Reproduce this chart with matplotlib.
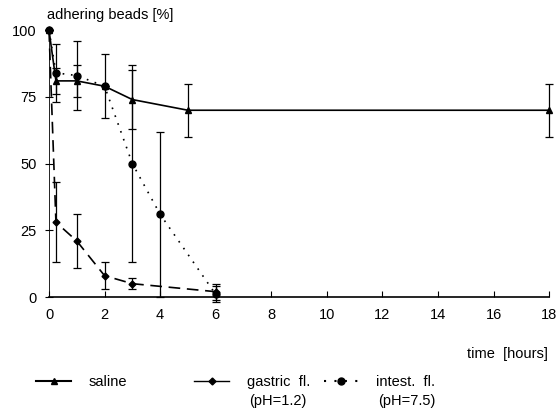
import matplotlib
matplotlib.use("Agg")
import matplotlib.pyplot as plt
from matplotlib.lines import Line2D

plt.rcParams['font.family'] = ['Liberation Sans', 'DejaVu Sans']
plt.rcParams['font.size'] = 10.5

# time points [hours] and adhering beads [%]
saline_t = [0, 0.25, 1, 2, 3, 5, 18]
saline_y = [100, 81, 81, 79, 74, 70, 70]
saline_err = [0, 5, 6, 12, 11, 10, 10]

gastric_t = [0, 0.25, 1, 2, 3, 6]
gastric_y = [100, 28, 21, 8, 5, 2]
gastric_err = [0, 15, 10, 5, 2, 3]

intest_t = [0, 0.25, 1, 2, 3, 4, 6]
intest_y = [100, 84, 83, 79, 50, 31, 1]
intest_err = [0, 11, 13, 0, 37, 31, 3]

xticks = [0, 2, 4, 6, 8, 10, 12, 14, 16, 18]
yticks = [0, 25, 50, 75, 100]

fig = plt.figure(figsize=(5.6, 4.08), dpi=100)
ax = fig.add_axes([0.0875, 0.272, 0.893, 0.654])

dash = (0, (7, 4))
dots = (0, (1, 4))

ebkw = dict(color='black', ecolor='black', elinewidth=0.9, capsize=3,
            capthick=0.9, clip_on=False)
ax.errorbar(saline_t, saline_y, yerr=saline_err, fmt='none', **ebkw)
ax.errorbar(gastric_t, gastric_y, yerr=gastric_err, fmt='none', **ebkw)
ax.errorbar(intest_t, intest_y, yerr=intest_err, fmt='none', **ebkw)
ax.plot(saline_t, saline_y, color='black', linestyle='-', marker='^',
        markersize=5, linewidth=1.2, clip_on=False)
ax.plot(gastric_t, gastric_y, color='black', linestyle=dash, marker='D',
        markersize=3.5, linewidth=1.2, clip_on=False)
ax.plot(intest_t, intest_y, color='black', linestyle=dots, marker='o',
        markersize=5, linewidth=1.2, clip_on=False)

ax.set_xlim(0, 18)
ax.set_ylim(0, 100)
ax.set_xticks(xticks)
ax.set_yticks(yticks)
ax.spines['top'].set_visible(False)
ax.spines['right'].set_visible(False)
ax.spines['left'].set_linewidth(0.6)
ax.spines['bottom'].set_linewidth(1.2)
ax.tick_params(axis='x', direction='in', length=4, pad=8)
ax.tick_params(axis='y', direction='inout', length=6, pad=6)

fig.text(0.084, 0.945, 'adhering beads [%]', ha='left', va='bottom')
fig.text(0.978, 0.115, 'time  [hours]', ha='right', va='bottom')

entries = [
    (Line2D([], [], color='black', linestyle='-', marker='^', markersize=5), 'saline', 0.065, None),
    (Line2D([], [], color='black', linestyle='-', linewidth=1.0, marker='D', markersize=3.5), 'gastric  fl.', 0.347, '(pH=1.2)'),
    (Line2D([], [], color='black', linestyle=dots, marker='o', markersize=5), 'intest.  fl.', 0.578, '(pH=7.5)'),
]
for handle, label, x, sub in entries:
    fig.legend([handle], [label], loc='center left', bbox_to_anchor=(x, 0.063),
               frameon=False, handlelength=2.4, handletextpad=1.2,
               borderpad=0, borderaxespad=0)
    if sub:
        fig.text(x + 0.098, 0.018, sub, ha='left', va='center')

fig.savefig('out.png', dpi=100)
